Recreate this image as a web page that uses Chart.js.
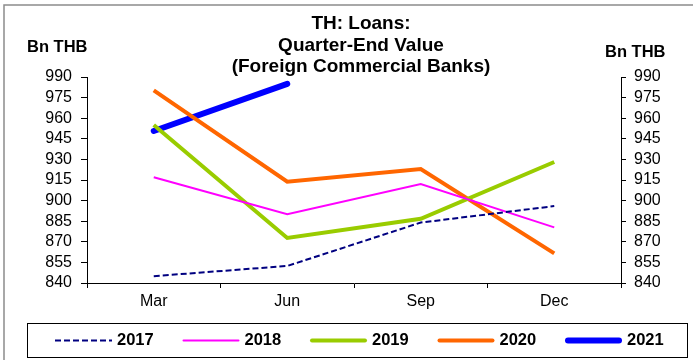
<!DOCTYPE html>
<html><head><meta charset="utf-8">
<script src="https://cdn.jsdelivr.net/npm/chart.js@4"></script>
<style>html,body{margin:0;padding:0;background:#fff}#wrap{width:693px;height:360px;position:relative}</style>
</head><body><div id="wrap"><canvas id="c" width="693" height="360"></canvas></div>
<script>
const categories = ['Mar', 'Jun', 'Sep', 'Dec'];
const s2017 = [845, 852.4, 884, 896];
const s2018 = [917, 890, 912, 880.5];
const s2019 = [955, 872.8, 886.8, 928.1];
const s2020 = [980.3, 913.8, 923, 861.6];
const s2021 = [950.7, 985, null, null];
const seriesNames = ['2017', '2018', '2019', '2020', '2021'];
const titleLines = ['TH: Loans:', 'Quarter-End Value', '(Foreign Commercial Banks)'];
const unitLabel = 'Bn THB';
const yMin = 840, yMax = 990, yStep = 15;

const FONT = '"Liberation Sans", Arial, sans-serif';

const deco = {
  id: 'deco',
  beforeDraw(chart) {
    const ctx = chart.ctx;
    ctx.save();
    ctx.fillStyle = '#fff';
    ctx.fillRect(0, 0, chart.width, chart.height);
    ctx.strokeStyle = '#8c8c8c';
    ctx.lineWidth = 1.5;
    ctx.strokeRect(4, 5, chart.width + 10, chart.height + 10);
    ctx.restore();
  },
  afterDraw(chart) {
    const ctx = chart.ctx;
    ctx.save();
    ctx.fillStyle = '#000';
    ctx.textBaseline = 'middle';
    ctx.font = 'bold 19px ' + FONT;
    ctx.textAlign = 'center';
    const ty = [24, 45.5, 66.5];
    titleLines.forEach((t, i) => ctx.fillText(t, 361, ty[i]));
    ctx.font = 'bold 16.5px ' + FONT;
    ctx.textAlign = 'left';
    ctx.fillText(unitLabel, 27, 47);
    ctx.fillText(unitLabel, 605, 52);
    // legend box
    ctx.strokeStyle = '#000';
    ctx.lineWidth = 1;
    ctx.strokeRect(27.5, 323.5, 660, 34);
    const ly = 340.5;
    chart.data.datasets.forEach((ds, i) => {
      const x0 = 55 + i * 127.5;
      ctx.beginPath();
      ctx.strokeStyle = ds.borderColor;
      ctx.lineWidth = ds.borderWidth;
      ctx.lineCap = ds.borderDash ? 'butt' : 'round';
      ctx.setLineDash(ds.borderDash || []);
      ctx.moveTo(x0 + (ds.borderDash ? 0 : ds.borderWidth / 2), ly);
      ctx.lineTo(x0 + 57 - (ds.borderDash ? 0 : ds.borderWidth / 2), ly);
      ctx.stroke();
      ctx.setLineDash([]);
      ctx.fillStyle = '#000';
      ctx.font = 'bold 16.5px ' + FONT;
      ctx.fillText(ds.label, x0 + 62, ly);
    });
    ctx.restore();
  }
};

const yTicks = {
  stepSize: yStep,
  autoSkip: false,
  color: '#000',
  font: { family: FONT, size: 16 },
};

new Chart(document.getElementById('c'), {
  type: 'line',
  data: {
    labels: categories,
    datasets: [
      { label: seriesNames[0], data: s2017, borderColor: '#000080', borderWidth: 2, borderDash: [6, 3] },
      { label: seriesNames[1], data: s2018, borderColor: '#ff00ff', borderWidth: 2 },
      { label: seriesNames[2], data: s2019, borderColor: '#99cc00', borderWidth: 4 },
      { label: seriesNames[3], data: s2020, borderColor: '#ff6600', borderWidth: 4 },
      { label: seriesNames[4], data: s2021, borderColor: '#0000ff', borderWidth: 6, borderCapStyle: 'round' }
    ].map(d => Object.assign({ pointRadius: 0, tension: 0, fill: false, spanGaps: false }, d))
  },
  options: {
    responsive: false,
    animation: false,
    devicePixelRatio: 1,
    layout: { padding: { left: 0, right: 0, top: 77, bottom: 0 } },
    plugins: { legend: { display: false }, title: { display: false }, tooltip: { enabled: false } },
    scales: {
      x: {
        offset: true,
        grid: { offset: true, drawOnChartArea: false, drawTicks: true, tickLength: 5, color: '#000' },
        border: { color: '#000', width: 1 },
        ticks: { color: '#000', font: { family: FONT, size: 16 }, padding: 4, maxRotation: 0, autoSkip: false },
        afterFit: s => { s.height = 77; }
      },
      y: {
        position: 'left', min: yMin, max: yMax,
        grid: { drawOnChartArea: false, drawTicks: true, tickLength: 6, color: '#000' },
        border: { color: '#000', width: 1 },
        ticks: Object.assign({ padding: 9 }, yTicks),
        afterFit: s => { s.width = 87; }
      },
      y1: {
        position: 'right', min: yMin, max: yMax,
        grid: { drawOnChartArea: false, drawTicks: true, tickLength: 5, color: '#000' },
        border: { color: '#000', width: 1 },
        ticks: Object.assign({ padding: 8 }, yTicks),
        afterFit: s => { s.width = 72; }
      }
    }
  },
  plugins: [deco]
});
</script></body></html>
